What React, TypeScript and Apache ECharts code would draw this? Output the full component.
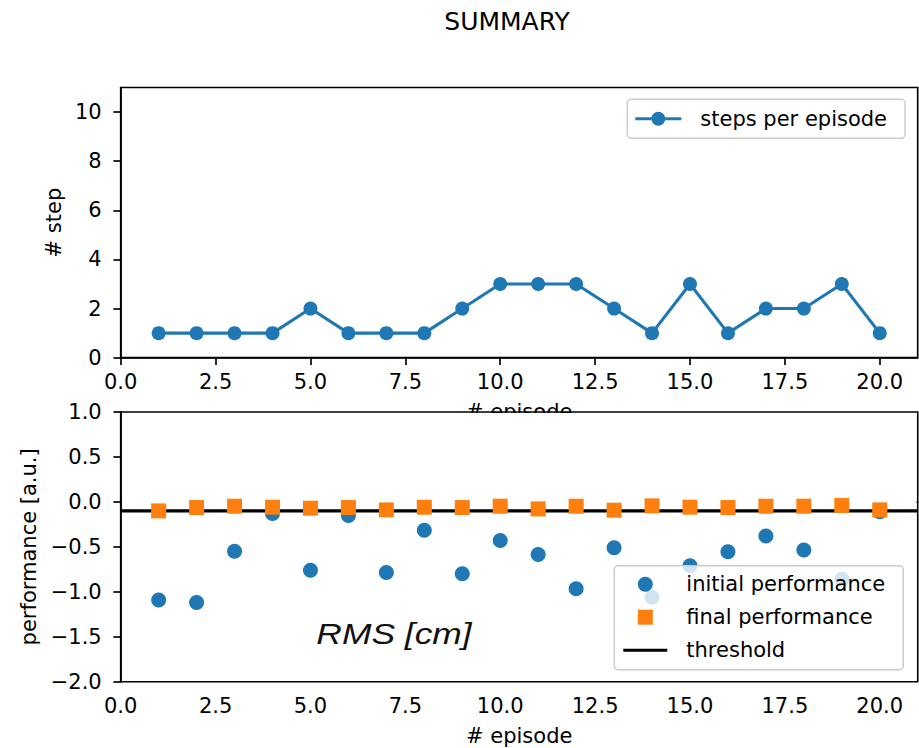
import React, { useEffect, useRef } from 'react';
import * as echarts from 'echarts';

const episodes = [1, 2, 3, 4, 5, 6, 7, 8, 9, 10, 11, 12, 13, 14, 15, 16, 17, 18, 19, 20];
const stepsPerEpisode = [1, 1, 1, 1, 2, 1, 1, 1, 2, 3, 3, 3, 2, 1, 3, 1, 2, 2, 3, 1];
const initialPerformance = [-1.09, -1.12, -0.55, -0.13, -0.76, -0.15, -0.785, -0.315, -0.8, -0.43, -0.585, -0.965, -0.51, -1.06, -0.71, -0.555, -0.38, -0.535, -0.86, -0.11];
const finalPerformance = [-0.1, -0.063, -0.048, -0.059, -0.07, -0.063, -0.089, -0.059, -0.063, -0.048, -0.078, -0.048, -0.092, -0.044, -0.059, -0.063, -0.048, -0.048, -0.04, -0.089];
const threshold = -0.1;
const xTicks = [0, 2.5, 5, 7.5, 10, 12.5, 15, 17.5, 20];
const stepTicks = [0, 2, 4, 6, 8, 10];
const xRange = [0, 21];
const stepRange = [0, 11];
const perfRange = [-2, 1];

const FONT = '"DejaVu Sans", sans-serif';
const FS = 21;

export default function App() {
  const ref = useRef<HTMLDivElement>(null);
  useEffect(() => {
    if (!ref.current) return;
    const chart = echarts.init(ref.current, undefined, { renderer: 'svg' });
    const labelStyle = { color: '#000', fontSize: FS, fontFamily: FONT };
    const axisLine = { show: true, lineStyle: { color: '#000', width: 1.67 } };
    const tickStyle = { color: '#000', width: 1.67 };
    const makeX = (gridIndex: number) => ({
      type: 'value', gridIndex, min: xRange[0], max: xRange[1],
      axisLine,
      axisTick: { show: true, inside: false, length: 7.3, lineStyle: tickStyle, customValues: xTicks },
      axisLabel: { ...labelStyle, margin: 14, customValues: xTicks, formatter: (v: number) => v.toFixed(1) },
      splitLine: { show: false },
      name: '# episode', nameLocation: 'middle', nameGap: 44,
      nameTextStyle: labelStyle,
    });
    const minusFmt = (v: number) => (v < 0 ? '\u2212' : '') + Math.abs(v).toFixed(1);
    const legendCommon = {
      orient: 'vertical',
      backgroundColor: 'rgba(255,255,255,0.8)',
      borderColor: '#cccccc', borderWidth: 1.5, borderRadius: 4,
      textStyle: { ...labelStyle, padding: [0, 0, 0, 14] },
      selectedMode: false,
    };
    chart.setOption({
      animation: false,
      backgroundColor: '#fff',
      grid: [
        { left: 120.7, top: 87.5, width: 797, height: 270.2, show: true, borderColor: '#000', borderWidth: 1.67, containLabel: false },
        { left: 120.7, top: 412, width: 797, height: 269.7, show: true, borderColor: '#000', borderWidth: 1.67, containLabel: false },
      ],
      xAxis: [makeX(0), makeX(1)],
      yAxis: [
        {
          type: 'value', gridIndex: 0, min: stepRange[0], max: stepRange[1],
          axisLine,
          axisTick: { show: true, inside: false, length: 7.3, lineStyle: tickStyle, customValues: stepTicks },
          axisLabel: { ...labelStyle, margin: 19, customValues: stepTicks, formatter: (v: number) => String(v) },
          splitLine: { show: false },
          name: '# step', nameLocation: 'middle', nameGap: 54, nameTextStyle: labelStyle,
        },
        {
          type: 'value', gridIndex: 1, min: perfRange[0], max: perfRange[1], interval: 0.5,
          axisLine,
          axisTick: { show: true, inside: false, length: 7.3, lineStyle: tickStyle },
          axisLabel: { ...labelStyle, margin: 19, formatter: minusFmt },
          splitLine: { show: false },
          name: 'performance [a.u.]', nameLocation: 'middle', nameGap: 80, nameTextStyle: labelStyle,
        },
      ],
      legend: [
        {
          ...legendCommon,
          data: [{ name: 'steps per episode', icon: 'path://M0,5.5h16v3h-16z M30,5.5h16v3h-16z M16,7a7,7 0 1,0 14,0a7,7 0 1,0 -14,0z' }],
          left: 627.3, top: 99.3,
          padding: [9, 18, 9, 8],
          itemWidth: 46, itemHeight: 14,
        },
        {
          ...legendCommon,
          data: [
            { name: 'initial performance', icon: 'circle' },
            { name: 'final performance', icon: 'path://M0,0h10v10h-10z' },
            { name: 'threshold', icon: 'path://M0,0h44v3h-44z' },
          ],
          left: 614.3, top: 565.7,
          padding: [8, 18, 9, 9],
          itemGap: 12,
          itemWidth: 44, itemHeight: 15,
        },
      ],
      graphic: [
        { type: 'rect', z: 1, shape: { x: 122, y: 413, width: 794.5, height: 268 }, style: { fill: '#fff' } },
        { type: 'text', x: 507, y: 21.5, z: 5, style: { text: 'SUMMARY', fill: '#000', fontSize: 25, fontFamily: FONT, align: 'center', verticalAlign: 'middle' } },
        { type: 'text', x: 394, y: 634, z: 5, scaleX: 1.2, originX: 0, style: { text: 'RMS [cm]', fill: '#111', fontSize: 29.5, fontStyle: 'italic', fontFamily: '"Liberation Sans", Arial, sans-serif', align: 'center', verticalAlign: 'middle' } },
      ],
      series: [
        {
          name: 'steps per episode', type: 'line', xAxisIndex: 0, yAxisIndex: 0,
          data: episodes.map((e, i) => [e, stepsPerEpisode[i]]),
          symbol: 'circle', symbolSize: 14, showSymbol: true,
          lineStyle: { color: '#1f77b4', width: 3.1 },
          itemStyle: { color: '#1f77b4' },
          z: 3,
        },
        {
          name: 'threshold', type: 'line', xAxisIndex: 1, yAxisIndex: 1,
          data: [[xRange[0], threshold], [xRange[1], threshold]],
          symbol: 'none',
          lineStyle: { color: '#000', width: 3.1 },
          itemStyle: { color: '#000' },
          z: 2,
        },
        {
          name: 'initial performance', type: 'scatter', xAxisIndex: 1, yAxisIndex: 1,
          data: episodes.map((e, i) => [e, initialPerformance[i]]),
          symbol: 'circle', symbolSize: 15,
          itemStyle: { color: '#1f77b4', opacity: 1 },
          z: 3,
        },
        {
          name: 'final performance', type: 'scatter', xAxisIndex: 1, yAxisIndex: 1,
          data: episodes.map((e, i) => [e, finalPerformance[i]]),
          symbol: 'rect', symbolSize: 15,
          itemStyle: { color: '#ff7f0e', opacity: 1 },
          z: 4,
        },
      ],
    });
    return () => chart.dispose();
  }, []);
  return <div ref={ref} style={{ position: 'fixed', left: 0, top: 0, width: 919, height: 748 }} />;
}
